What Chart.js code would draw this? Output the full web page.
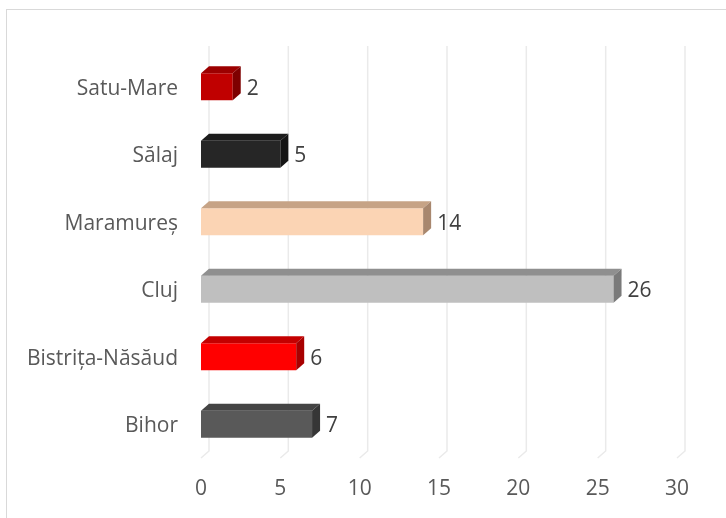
<!DOCTYPE html>
<html>
<head>
<meta charset="utf-8">
<script src="https://cdn.jsdelivr.net/npm/chart.js@4"></script>
<style>
  html, body { margin: 0; padding: 0; background: #ffffff; }
  #wrap { width: 726px; height: 518px; }
</style>
</head>
<body>
<div id="wrap"><canvas id="judete" width="726" height="518"></canvas></div>
<script>
const counties = ['Satu-Mare', 'Sălaj', 'Maramureș', 'Cluj', 'Bistrița-Năsăud', 'Bihor'];
const counts = [2, 5, 14, 26, 6, 7];
const xTicks = [0, 5, 10, 15, 20, 25, 30];

// front / top / side face colours per bar
const frontColors = ['#c00000', '#262626', '#fbd4b4', '#bfbfbf', '#ff0000', '#595959'];
const topColors   = ['#9c0000', '#1c1c1c', '#c6a386', '#8f8f8f', '#c40000', '#444444'];
const sideColors  = ['#7e0000', '#141414', '#a8876e', '#7a7a7a', '#a80000', '#363636'];

const DX = 8, DY = 7;
const FONT = '"Open Sans", Lato, sans-serif';
const FSIZE = 21;

const bar3d = {
  id: 'bar3d',
  beforeDraw(chart) {
    const ctx = chart.ctx;
    ctx.save();
    ctx.strokeStyle = '#d9d9d9';
    ctx.lineWidth = 1;
    ctx.strokeRect(6.5, 9.5, 800, 600);
    ctx.restore();
  },
  beforeDatasetsDraw(chart) {
    const ctx = chart.ctx, area = chart.chartArea, xs = chart.scales.x;
    ctx.save();
    ctx.strokeStyle = '#eaeaea';
    ctx.lineWidth = 1.5;
    xTicks.forEach(v => {
      const x = xs.getPixelForValue(v);
      ctx.beginPath();
      ctx.moveTo(x + DX, area.top - DY);
      ctx.lineTo(x + DX, area.bottom - DY);
      ctx.lineTo(x, area.bottom);
      ctx.stroke();
    });
    ctx.restore();
  },
  afterDatasetsDraw(chart) {
    const ctx = chart.ctx;
    const meta = chart.getDatasetMeta(0);
    ctx.save();
    meta.data.forEach((el, i) => {
      const { x, y, base, height } = el.getProps(['x', 'y', 'base', 'height'], true);
      const top = y - height / 2, bottom = y + height / 2;
      ctx.fillStyle = topColors[i];
      ctx.beginPath();
      ctx.moveTo(base, top);
      ctx.lineTo(base + DX, top - DY);
      ctx.lineTo(x + DX, top - DY);
      ctx.lineTo(x, top);
      ctx.closePath();
      ctx.fill();
      ctx.fillStyle = sideColors[i];
      ctx.beginPath();
      ctx.moveTo(x, top);
      ctx.lineTo(x + DX, top - DY);
      ctx.lineTo(x + DX, bottom - DY);
      ctx.lineTo(x, bottom);
      ctx.closePath();
      ctx.fill();

      ctx.fillStyle = '#404040';
      ctx.font = FSIZE + 'px ' + FONT;
      ctx.textAlign = 'left';
      ctx.textBaseline = 'middle';
      ctx.fillText(String(counts[i]), x + DX + 6, y + 2);
    });
    ctx.restore();
  }
};

new Chart(document.getElementById('judete').getContext('2d'), {
  type: 'bar',
  data: {
    labels: counties,
    datasets: [{
      data: counts,
      backgroundColor: frontColors,
      borderWidth: 0,
      categoryPercentage: 1,
      barPercentage: 0.4
    }]
  },
  options: {
    indexAxis: 'y',
    responsive: false,
    animation: false,
    layout: { padding: { top: 53, right: 49, left: 0, bottom: 0 } },
    plugins: { legend: { display: false }, tooltip: { enabled: false } },
    scales: {
      x: {
        min: 0, max: 30,
        afterBuildTicks: s => { s.ticks = xTicks.map(v => ({ value: v })); },
        afterFit: s => { s.height = 60; },
        grid: { display: false },
        border: { display: false },
        ticks: { color: '#595959', font: { family: FONT, size: FSIZE }, padding: 10 }
      },
      y: {
        afterFit: s => { s.width = 201; },
        grid: { display: false, drawTicks: false },
        border: { display: false },
        ticks: { color: '#595959', font: { family: FONT, size: FSIZE }, padding: 23, labelOffset: 2 }
      }
    }
  },
  plugins: [bar3d]
});
</script>
</body>
</html>
